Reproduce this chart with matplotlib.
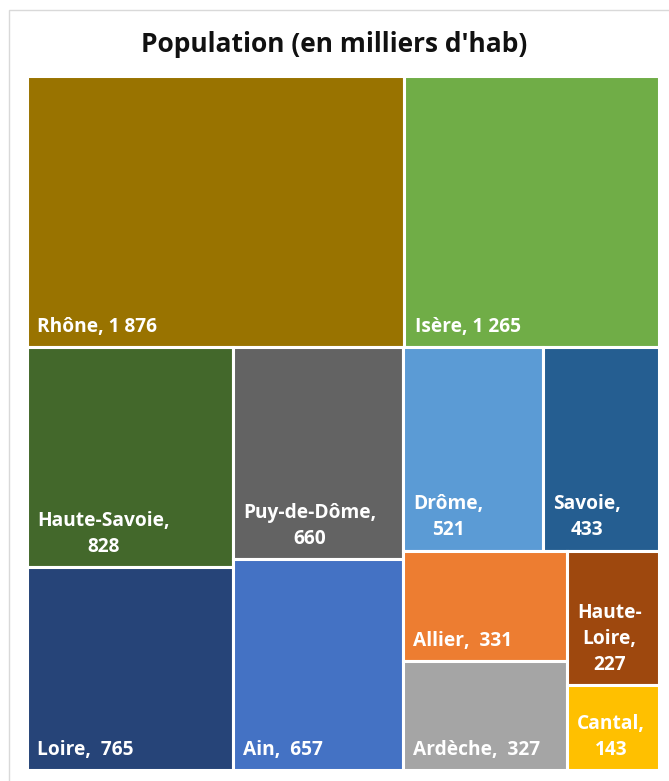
import matplotlib
matplotlib.use('Agg')
from matplotlib import pyplot
from matplotlib.patches import Rectangle

matplotlib.rcParams['font.family'] = ['Open Sans', 'DejaVu Sans']

departements = ['Rhône', 'Isère', 'Haute-Savoie', 'Loire', 'Puy-de-Dôme', 'Ain',
                'Drôme', 'Savoie', 'Allier', 'Ardèche', 'Haute-Loire', 'Cantal']
population = [1876, 1265, 828, 765, 660, 657, 521, 433, 331, 327, 227, 143]
labels = ['Rhône, 1 876', 'Isère, 1 265', 'Haute-Savoie,\n828', 'Loire,  765',
          'Puy-de-Dôme,\n660', 'Ain,  657', 'Drôme,\n521', 'Savoie,\n433',
          'Allier,  331', 'Ardèche,  327', 'Haute-\nLoire,\n227', 'Cantal,\n143']
colors = ['#997300', '#70AD47', '#43682B', '#264478', '#636363', '#4472C4',
          '#5B9BD5', '#255E91', '#ED7D31', '#A5A5A5', '#9E480E', '#FFC000']


def worst(row, side):
    s = sum(row)
    return max(max(side * side * r / (s * s), s * s / (side * side * r)) for r in row)


def squarify(values, x, y, w, h):
    # values already scaled to areas; y grows downward
    rects = []
    values = list(values)
    while values:
        side = min(w, h)
        row = [values[0]]
        i = 1
        while i < len(values) and worst(row + [values[i]], side) <= worst(row, side):
            row.append(values[i])
            i += 1
        values = values[i:]
        s = sum(row)
        if w <= h:
            rh = s / w
            cx = x
            for r in row:
                rects.append((cx, y, r / rh, rh))
                cx += r / rh
            y += rh
            h -= rh
        else:
            rw = s / h
            cy = y
            for r in row:
                rects.append((x, cy, rw, r / rw))
                cy += r / rw
            x += rw
            w -= rw
    return rects


W, H = 632, 694
total = sum(population)
areas = [p * W * H / total for p in population]
rects = squarify(areas, 0, 0, W, H)

fig = pyplot.figure(figsize=(6.69, 7.81), dpi=100)
# chart area border (only top and left edges fall inside the picture)
fig.patches.append(Rectangle((9 / 669, -0.05), 1.0, 1.05 - 10 / 781,
                             transform=fig.transFigure, fill=False,
                             edgecolor='#D9D9D9', linewidth=1))

ax = fig.add_axes([27 / 669, 1 - 770 / 781, W / 669, H / 781])
ax.set_xlim(0, W)
ax.set_ylim(H, 0)
ax.axis('off')

for (x, y, w, h), lab, col in zip(rects, labels, colors):
    ax.add_patch(Rectangle((x, y), w, h, facecolor=col, edgecolor='white', linewidth=2.2))
    ax.annotate(lab, (x, y + h), xytext=(7.5, 7.5), textcoords='offset points',
                ha='left', va='bottom', multialignment='center',
                color='white', fontsize=13.8, fontweight='bold', linespacing=1.4)

fig.text(0.5, 1 - 45 / 781, "Population (en milliers d'hab)", ha='center', va='center',
         fontsize=19, fontweight='bold', color='#111111')

fig.savefig('out.png', dpi=100)
